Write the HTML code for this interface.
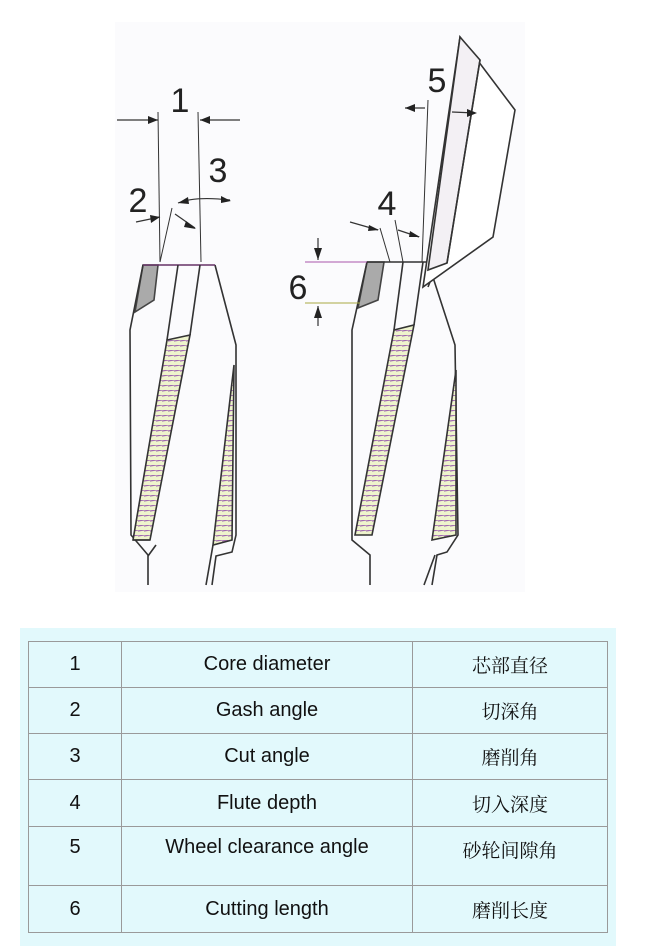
<!DOCTYPE html>
<html><head><meta charset="utf-8"><style>
body{margin:0;width:650px;height:952px;background:#fff;position:relative;font-family:"Liberation Sans","Noto Sans CJK SC",sans-serif;overflow:hidden}
svg{position:absolute;left:0;top:0}
.tb{position:absolute;left:20px;top:628px;width:596px;height:318px;background:#e2f9fc}
table{position:absolute;left:8px;top:13px;border-collapse:collapse;width:580px}
td{border:1.5px solid #9a9a9a;text-align:center;font-size:20px;color:#111;padding:0}
td.c{font-family:"Liberation Serif","Noto Serif CJK SC",serif;font-size:19px}
</style></head><body>
<svg width="650" height="620" viewBox="0 0 650 620">
<rect x="115" y="22" width="410" height="570" fill="#fbfbfd"/>
<defs><pattern id="h" width="6" height="5" patternUnits="userSpaceOnUse"><rect width="6" height="5" fill="#eef4cc"/><line x1="0" y1="1" x2="6" y2="0" stroke="#a06ab0" stroke-width="1.2"/></pattern></defs>
<g stroke="#333" stroke-width="1.6" fill="none">
<polygon points="143,265 158,265 154,300 135,312" fill="#aaa" stroke="#444"/>
<polyline points="143,265 130,330 131,535 148,555 148,585"/>
<polyline points="215,265 236,345 236,535 232,552 216,556 212,585"/>
<line x1="143" y1="265" x2="215" y2="265" stroke="#636"/>
<line x1="178" y1="265" x2="167" y2="340"/>
<line x1="200" y1="265" x2="190" y2="335"/>
<polygon points="167,340 190,335 150,540 133,540" fill="url(#h)"/>
<line x1="133" y1="540" x2="150" y2="540"/>
<polygon points="234,365 232,540 213,545" fill="url(#h)"/>
<line x1="213" y1="545" x2="206" y2="585"/>
<line x1="156" y1="545" x2="148" y2="556"/>
<line x1="158" y1="112" x2="160" y2="262" stroke-width="1"/>
<line x1="198" y1="112" x2="201" y2="262" stroke-width="1"/>
<line x1="117" y1="120" x2="158" y2="120" stroke-width="1.2"/>
<line x1="200" y1="120" x2="240" y2="120" stroke-width="1.2"/>
<line x1="160" y1="262" x2="172" y2="208" stroke-width="1"/>
<line x1="136" y1="222" x2="160" y2="217" stroke-width="1.2"/>
<path d="M175 214 L195 228" stroke-width="1.2"/>
<path d="M178 203 Q195 196 230 200" stroke-width="1.2"/>
<polygon points="367,262 384,262 378,300 358,308" fill="#aaa" stroke="#444"/>
<polyline points="367,262 352,330 352,540 370,555 370,585"/>
<line x1="367" y1="262" x2="438" y2="262"/>
<line x1="403" y1="262" x2="394" y2="330"/>
<line x1="423" y1="262" x2="414" y2="325"/>
<polygon points="394,330 414,325 372,535 355,535" fill="url(#h)"/>
<polyline points="428,262 455,345 458,535 447,552 437,555 432,585"/>
<polygon points="456,370 456,535 432,540" fill="url(#h)"/>
<line x1="435" y1="555" x2="424" y2="585"/>
<line x1="438" y1="262" x2="428" y2="287"/>
<polygon points="460,37 515,110 493,237 423,287" fill="#fff"/>
<polygon points="460,37 480,60 447,263 428,270" fill="#f3f0f4"/>
<line x1="480" y1="60" x2="447" y2="263"/>
<line x1="428" y1="100" x2="422" y2="262" stroke-width="1"/>
<line x1="405" y1="108" x2="425" y2="108" stroke-width="1.2"/>
<line x1="452" y1="112" x2="475" y2="113" stroke-width="1.2"/>
<line x1="380" y1="228" x2="390" y2="262" stroke-width="1"/>
<line x1="395" y1="220" x2="403" y2="262" stroke-width="1"/>
<line x1="350" y1="222" x2="378" y2="230" stroke-width="1.2"/>
<line x1="398" y1="230" x2="419" y2="237" stroke-width="1.2"/>
<line x1="305" y1="262" x2="367" y2="262" stroke="#a5a" stroke-width="1"/>
<line x1="305" y1="303" x2="360" y2="303" stroke="#aa4" stroke-width="1"/>
<line x1="318" y1="238" x2="318" y2="260" stroke-width="1.2"/>
<line x1="318" y1="306" x2="318" y2="326" stroke-width="1.2"/>
</g>
<g fill="#222">
<polygon points="158,120 148,116 148,124"/><polygon points="200,120 210,116 210,124"/>
<polygon points="405,108 415,104 415,112"/><polygon points="477,113 467,109 467,117"/>
<polygon points="318,260 314,248 322,248"/><polygon points="318,306 314,318 322,318"/>
<polygon points="160,217 150,215 151,223"/><polygon points="196,229 186,221 184,227"/>
<polygon points="178,203 188,197 189,204"/><polygon points="231,201 221,196 221,203"/>
<polygon points="379,230 369,225 368,231"/><polygon points="420,237 410,231 409,237"/>
</g>
<g font-family="Liberation Sans" font-size="34" fill="#222" text-anchor="middle">
<text x="180" y="112">1</text><text x="138" y="212">2</text><text x="218" y="182">3</text>
<text x="387" y="215">4</text><text x="437" y="92">5</text><text x="298" y="299">6</text>
</g>
</svg>
<div class="tb"><table>
<tr style="height:46px"><td style="width:92px">1</td><td style="width:290px">Core diameter</td><td class="c">芯部直径</td></tr>
<tr style="height:46px"><td>2</td><td>Gash angle</td><td class="c">切深角</td></tr>
<tr style="height:46px"><td>3</td><td>Cut angle</td><td class="c">磨削角</td></tr>
<tr style="height:47px"><td>4</td><td>Flute depth</td><td class="c">切入深度</td></tr>
<tr style="height:59px"><td style="vertical-align:top;padding-top:9px">5</td><td style="vertical-align:top;padding-top:9px">Wheel clearance angle</td><td class="c" style="vertical-align:top;padding-top:9px">砂轮间隙角</td></tr>
<tr style="height:47px"><td>6</td><td>Cutting length</td><td class="c">磨削长度</td></tr>
</table></div>
</body></html>
